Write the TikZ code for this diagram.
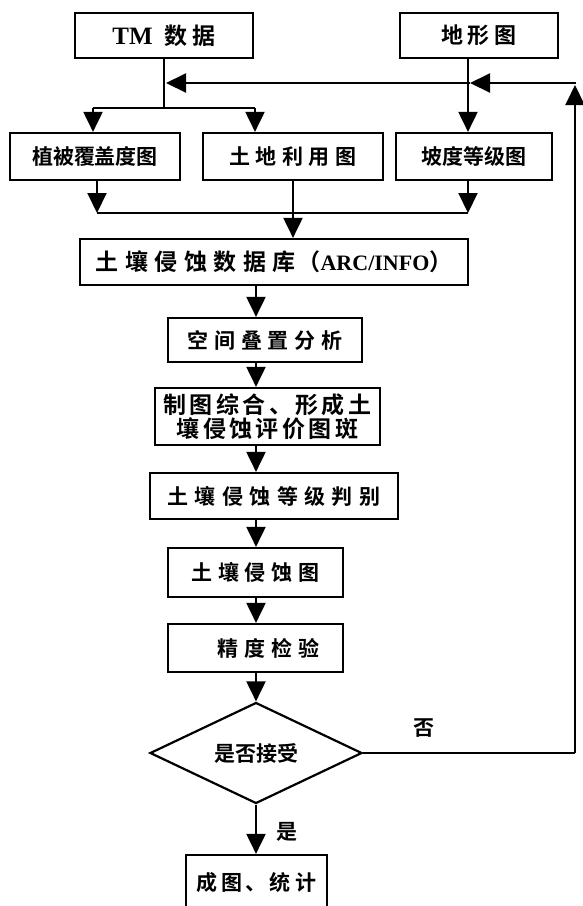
\documentclass[tikz,border=0pt]{standalone}
\usepackage{fontspec}
\setmainfont{Liberation Serif}
\newfontfamily\cjk{Noto Sans CJK SC Bold}
\newfontfamily\lat{Liberation Serif Bold}
\usetikzlibrary{shapes.geometric,arrows.meta}
\begin{document}
\begin{tikzpicture}[x=1pt,y=-1pt,
  txt/.style={font=\cjk\fontsize{21}{27}\selectfont},
  big/.style={font=\cjk\fontsize{23}{24}\selectfont},
  box/.style={draw,line width=2.2pt,minimum width=#1,inner sep=0pt,txt},
  arr/.style={line width=2pt,-{Triangle[length=20pt,width=19pt]}},
  ln/.style={line width=2pt}]
\useasboundingbox (0,0) rectangle (582,906);
\node[box=178,minimum height=45] (tm) at (164,35.5) {{\lat\fontsize{25}{27}\selectfont TM}\hspace{12pt}{\fontsize{23}{27}\selectfont 数\hspace{5pt}据}};
\node[box=158,minimum height=45] (dx) at (479,35.5) {{\fontsize{22}{27}\selectfont 地\hspace{5pt}形\hspace{5pt}图}};
\node[box=170,minimum height=47] (zb) at (95,156.5) {植被覆盖度图};
\node[box=180,minimum height=47] (td) at (293,156.5) {土\hspace{5.5pt}地\hspace{5.5pt}利\hspace{5.5pt}用\hspace{5.5pt}图};
\node[box=156,minimum height=47] (pd) at (474,156.5) {坡度等级图};
\node[box=388,minimum height=46,big] (db) at (274,262) {土\hspace{6.5pt}壤\hspace{6.5pt}侵\hspace{6.5pt}蚀\hspace{6.5pt}数\hspace{6.5pt}据\hspace{6.5pt}库\hspace{2pt}（{\lat\fontsize{22}{24}\selectfont ARC/INFO}）};
\node[box=194,minimum height=44] (kj) at (265,340) {空\hspace{5.7pt}间\hspace{5.7pt}叠\hspace{5.7pt}置\hspace{5.7pt}分\hspace{5.7pt}析};
\node[box=225,minimum height=57,align=center,big] (zt) at (267.5,416.5) {制\hspace{3.4pt}图\hspace{3.4pt}综\hspace{3.4pt}合\hspace{3.4pt}、\hspace{3.4pt}形\hspace{3.4pt}成\hspace{3.4pt}土\\壤\hspace{3.4pt}侵\hspace{3.4pt}蚀\hspace{3.4pt}评\hspace{3.4pt}价\hspace{3.4pt}图\hspace{3.4pt}斑};
\node[box=248,minimum height=46] (dj) at (274,496) {土\hspace{6.4pt}壤\hspace{6.4pt}侵\hspace{6.4pt}蚀\hspace{6.4pt}等\hspace{6.4pt}级\hspace{6.4pt}判\hspace{6.4pt}别};
\node[box=175,minimum height=49] (qt) at (255.5,572.5) {土\hspace{5.75pt}壤\hspace{5.75pt}侵\hspace{5.75pt}蚀\hspace{5.75pt}图};
\node[box=175,minimum height=48] (jd) at (255.5,648) {\hspace{26pt}精\hspace{6.3pt}度\hspace{6.3pt}检\hspace{6.3pt}验};
\node[draw,diamond,line width=2.2pt,minimum width=212,minimum height=101,inner sep=0pt,aspect=2.1,txt] (dia) at (256,753) {是否接受};
\node[box=141,minimum height=56] (cg) at (256.5,883) {成\hspace{5pt}图\hspace{3pt}、\hspace{3pt}统\hspace{5pt}计};
\node[txt] (no) at (424,728) {否};
\node[txt] (yes) at (287,832) {是};
% top section
\coordinate (tmb) at (164,108);
\coordinate (fr) at (575,83);
\coordinate (fb) at (575,753);
\draw[ln] (tm.south) -- (tmb);
\draw[ln] (93,108) -- (255,108);
\draw[arr] (93,108) -- (zb.north -| 93,0);
\draw[arr] (255,108) -- (td.north -| 255,0);
\draw[arr] (dx.south -| 468,0) -- (pd.north -| 468,0);
\draw[ln] (dia.east) -- (fb);
\draw[arr] (fb) -- (575,85);
\draw[arr] (575,84) -- (fr) -- (470,83);
\draw[arr] (470,83) -- (166,83);
% merge
\draw[arr] (zb.south -| 97,0) -- (97,213);
\draw[arr] (pd.south -| 468,0) -- (468,213);
\draw[ln] (97,213) -- (468,213);
\draw[arr] (td.south) -- (db.north -| td.south);
\draw[arr] (db.south -| 256,0) -- (kj.north -| 256,0);
\draw[arr] (kj.south -| 256,0) -- (zt.north -| 256,0);
\draw[arr] (zt.south -| 256,0) -- (dj.north -| 256,0);
\draw[arr] (dj.south -| 256,0) -- (qt.north -| 256,0);
\draw[arr] (qt.south -| 256,0) -- (jd.north -| 256,0);
\draw[arr] (jd.south -| 256,0) -- (dia.north);
\draw[arr] (dia.south) -- (cg.north -| dia.south);
\end{tikzpicture}
\end{document}
